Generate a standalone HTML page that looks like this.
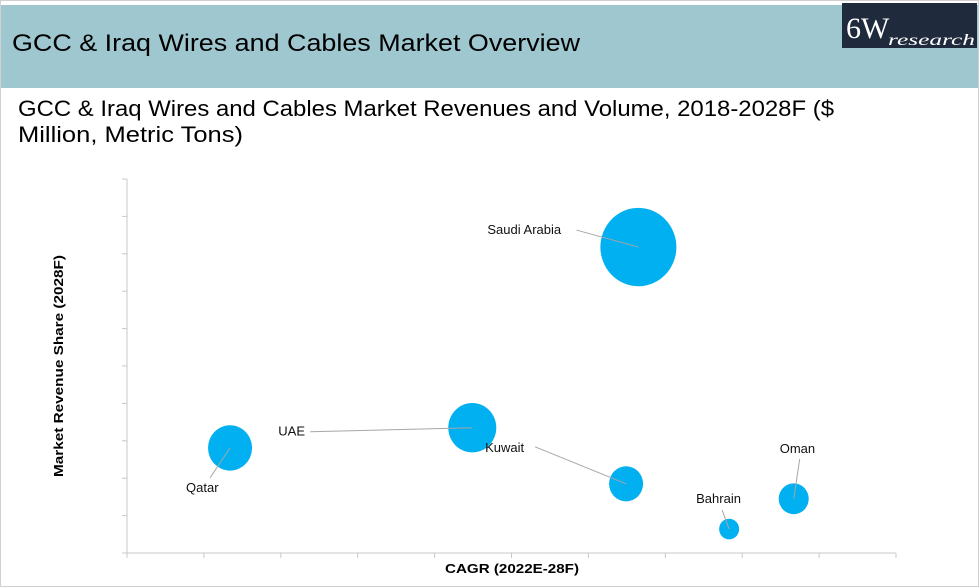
<!DOCTYPE html>
<html><head><meta charset="utf-8"><style>
html,body{margin:0;padding:0;background:#fff;}
svg{display:block;font-family:"Liberation Sans",sans-serif;}
</style></head><body>
<svg width="979" height="587" viewBox="0 0 979 587">
<rect x="0.5" y="0.5" width="978" height="586" fill="#fff" stroke="#d0d0d0"/>
<rect x="1" y="5" width="977" height="83" fill="#9fc7cf"/>
<text x="12" y="51" font-size="24" textLength="568" lengthAdjust="spacingAndGlyphs" fill="#000">GCC &amp; Iraq Wires and Cables Market Overview</text>
<g>
<rect x="842" y="3" width="135" height="45" fill="#1f2a3c"/>
<text x="846" y="38" font-family="Liberation Serif,serif" font-size="30" fill="#fff">6W</text>
<text x="888" y="45" font-family="Liberation Serif,serif" font-style="italic" font-size="16" fill="#fff" textLength="87" lengthAdjust="spacingAndGlyphs">research</text>
</g>
<text x="18" y="116" font-size="22" textLength="816" lengthAdjust="spacingAndGlyphs">GCC &amp; Iraq Wires and Cables Market Revenues and Volume, 2018-2028F ($</text>
<text x="18" y="142" font-size="22" textLength="225" lengthAdjust="spacingAndGlyphs">Million, Metric Tons)</text>
<g id="chart"></g>
</svg>
<script>
const countries = ["Saudi Arabia","UAE","Qatar","Kuwait","Bahrain","Oman"];
const cagrValues = [6.65,4.49,1.34,6.49,7.83,8.67];
const shareValues = [8.18,3.35,2.81,1.85,0.64,1.45];
const bubbleSizes = [38,24,22,17,10,15];
const NS="http://www.w3.org/2000/svg";
const g=document.getElementById('chart');
const X0=127,X1=896,Y0=553,Y1=179;
const xs=v=>X0+v/10*(X1-X0);
const ys=v=>Y0-v/10*(Y0-Y1);
function mk(t,a,p){const e=document.createElementNS(NS,t);for(const k in a)e.setAttribute(k,a[k]);(p||g).appendChild(e);return e;}
// axes
let e=mk('line',{x1:X0,y1:Y1,x2:X0,y2:Y0,stroke:'#c8c8c8'});


e=mk('line',{x1:X0,y1:Y0,x2:X1,y2:Y0,stroke:'#c8c8c8'});


for(let i=0;i<=10;i++){
 e=mk('line',{x1:X0-5,y1:ys(i),x2:X0,y2:ys(i),stroke:'#c8c8c8'});
 
 
 e=mk('line',{x1:xs(i),y1:Y0,x2:xs(i),y2:Y0+5,stroke:'#c8c8c8'});
 
 
}
e=mk('text',{x:512,y:573,'font-size':13,'font-weight':'bold','text-anchor':'middle',textLength:134,lengthAdjust:'spacingAndGlyphs'});
e.textContent='CAGR (2022E-28F)';


e=mk('text',{x:0,y:0,'font-size':13,'font-weight':'bold','text-anchor':'middle',transform:'translate(63,366) rotate(-90)',textLength:222,lengthAdjust:'spacingAndGlyphs'});
e.textContent='Market Revenue Share (2028F)';


// label offsets (dx,dy of text anchor relative to bubble centre, leader start)
const lab=[{tx:-151,ty:-13,lx:-62,ly:-17,a:'start'},{tx:-194,ty:8,lx:-162,ly:4,a:'start'},{tx:-44,ty:44,lx:-20,ly:30,a:'start'},{tx:-141,ty:-32,lx:-91,ly:-37,a:'start'},{tx:-33,ty:-26,lx:-7,ly:-19,a:'start'},{tx:-14,ty:-46,lx:6,ly:-40,a:'start'}];
countries.forEach((c,i)=>{
 const cx=xs(cagrValues[i]),cy=ys(shareValues[i]),r=bubbleSizes[i];
 const b=mk('ellipse',{cx:cx,cy:cy,rx:r,ry:r*1.03,fill:'#00b0f0'});
 
 
 const L=lab[i];
 const l=mk('line',{x1:cx+L.lx,y1:cy+L.ly,x2:cx,y2:cy,stroke:'#a6a6a6','stroke-width':1});
 
 
 const t=mk('text',{x:cx+L.tx,y:cy+L.ty,'font-size':13,fill:'#111'});
 t.textContent=c;
 
 
});
</script>
</body></html>
